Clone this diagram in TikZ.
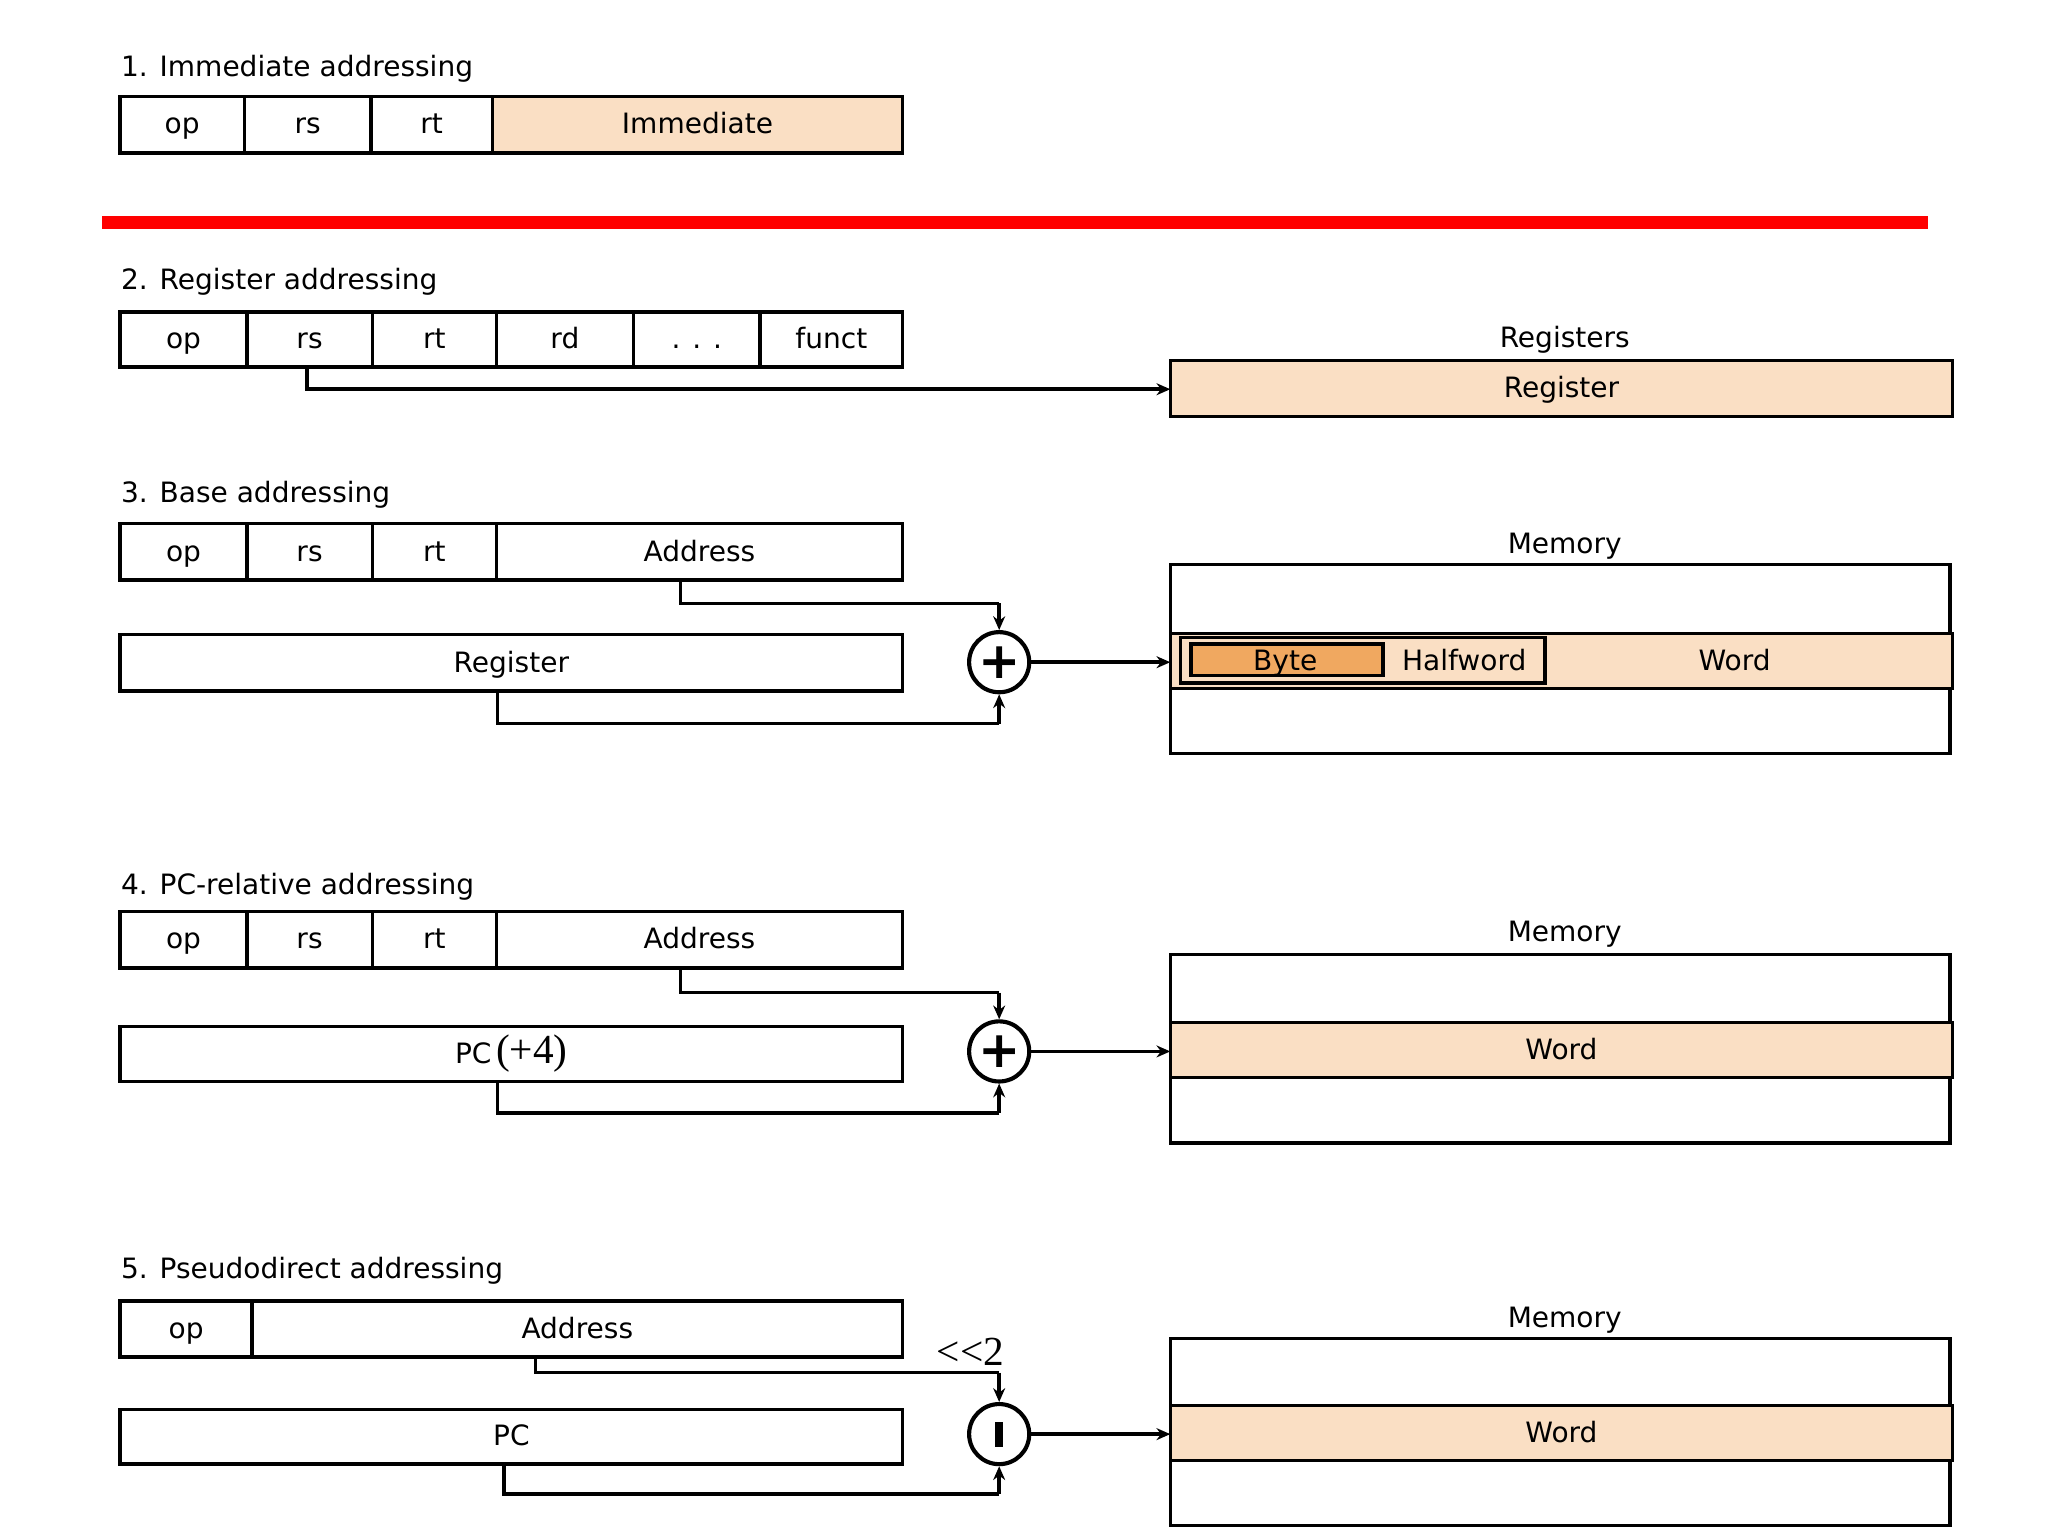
\documentclass[tikz,border=0pt]{standalone}
\usepackage{fontspec}
\setmainfont{DejaVu Sans}
\newfontfamily\serifx{Liberation Serif}
\usetikzlibrary{arrows.meta}
\definecolor{peach}{HTML}{FADFC4}
\definecolor{orng}{HTML}{F0A860}
\tikzset{x=0.01cm,y=-0.01cm,
  fld/.style={draw,line width=0.75pt},
  lbl/.style={font=\fontsize{6.1}{8}\selectfont,text height=1.5ex,text depth=0.35ex},
  ttl/.style={font=\fontsize{6.1}{8}\selectfont,anchor=west,inner sep=0},
  wire/.style={line width=0.75pt},
  arr/.style={line width=0.75pt,-{Stealth[length=3pt,width=2.6pt]}},
  adder/.style={draw,circle,line width=0.9pt,minimum size=0.46cm,inner sep=0}}
\newcommand{\fbx}[6][white]{\path[fld,fill=#1] (#2,#3) rectangle (#4,#5); \node[lbl] at ({(#2+#4)/2},{(#3+#5)/2-4}) {#6};}
\begin{document}
\begin{tikzpicture}
\useasboundingbox[fill=white] (0,0) rectangle (1568,1176);
% 1
\node[ttl] (t1) at (92,53) {1. Immediate addressing};
\fbx{92}{74}{187}{117}{op}\fbx{187}{74}{284}{117}{rs}\fbx{284}{74}{377}{117}{rt}\fbx[peach]{377}{74}{691}{117}{Immediate}
\fill[red] (78,165) rectangle (1476,175);
% 2
\node[ttl] (t2) at (92,216) {2. Register addressing};
\fbx{92}{239}{189}{281}{op}\fbx{189}{239}{285}{281}{rs}\fbx{285}{239}{380}{281}{rt}\fbx{380}{239}{485}{281}{rd}\fbx{485}{239}{582}{281}{. . .}\fbx{582}{239}{691}{281}{funct}
\node[lbl] (regs) at (1198,255) {Registers};
\fbx[peach]{896}{276}{1495}{319}{Register}
\coordinate (a2) at (235,281); \coordinate (b2) at (896,298);
\draw[arr] (a2) |- (b2);
% 3
\node[ttl] (t3) at (92,379) {3. Base addressing};
\fbx{92}{401}{189}{444}{op}\fbx{189}{401}{285}{444}{rs}\fbx{285}{401}{380}{444}{rt}\fbx{380}{401}{691}{444}{Address}
\fbx{92}{486}{691}{529}{Register}
\node[adder] (p3) at (765,507) {\fontsize{11}{11}\selectfont\textbf{+}};
\node[lbl] (mem3) at (1198,413) {Memory};
\path[fld] (896,432) rectangle (1493,577);
\path[fld,fill=peach] (896,485) rectangle (1495,527);
\path[fld,fill=peach] (904,488) rectangle (1183,523);
\path[fld,fill=orng] (912,493) rectangle (1059,517);
\node[lbl] at (984,502) {Byte};
\node[lbl] at (1121,502) {Halfword};
\node[lbl] at (1328,502) {Word};
\coordinate (m3) at (896,507);
\draw[wire] (521,444) -- (521,462) -- (765,462); \draw[arr] (765,462) -- (p3.north);
\draw[wire] (381,529) -- (381,554) -- (765,554); \draw[arr] (765,554) -- (p3.south);
\draw[arr] (p3.east) -- (m3);
% 4
\node[ttl] (t4) at (92,679) {4. PC-relative addressing};
\fbx{92}{698}{189}{741}{op}\fbx{189}{698}{285}{741}{rs}\fbx{285}{698}{380}{741}{rt}\fbx{380}{698}{691}{741}{Address}
\fbx{92}{786}{691}{828}{PC\,{\serifx\fontsize{9}{9}\selectfont(+4)}}
\node[adder] (p4) at (765,805) {\fontsize{11}{11}\selectfont\textbf{+}};
\node[lbl] (mem4) at (1198,710) {Memory};
\path[fld] (896,731) rectangle (1493,875);
\fbx[peach]{896}{783}{1495}{825}{Word}
\coordinate (m4) at (896,805);
\draw[wire] (521,741) -- (521,760) -- (765,760); \draw[arr] (765,760) -- (p4.north);
\draw[wire] (381,828) -- (381,852) -- (765,852); \draw[arr] (765,852) -- (p4.south);
\draw[arr] (p4.east) -- (m4);
% 5
\node[ttl] (t5) at (92,973) {5. Pseudodirect addressing};
\fbx{92}{996}{193}{1039}{op}\fbx{193}{996}{691}{1039}{Address}
\fbx{92}{1079}{691}{1121}{PC}
\node[adder] (p5) at (765,1098) {};
\fill (762,1089) rectangle (768,1108);
\node[font=\serifx\fontsize{9}{9}\selectfont] (sh) at (743,1035) {<<2};
\node[lbl] (mem5) at (1198,1005) {Memory};
\path[fld] (896,1025) rectangle (1493,1168);
\fbx[peach]{896}{1076}{1495}{1118}{Word}
\coordinate (m5) at (896,1098);
\draw[wire] (410,1039) -- (410,1051) -- (765,1051); \draw[arr] (765,1051) -- (p5.north);
\draw[wire] (386,1121) -- (386,1144) -- (765,1144); \draw[arr] (765,1144) -- (p5.south);
\draw[arr] (p5.east) -- (m5);
\end{tikzpicture}
\end{document}
